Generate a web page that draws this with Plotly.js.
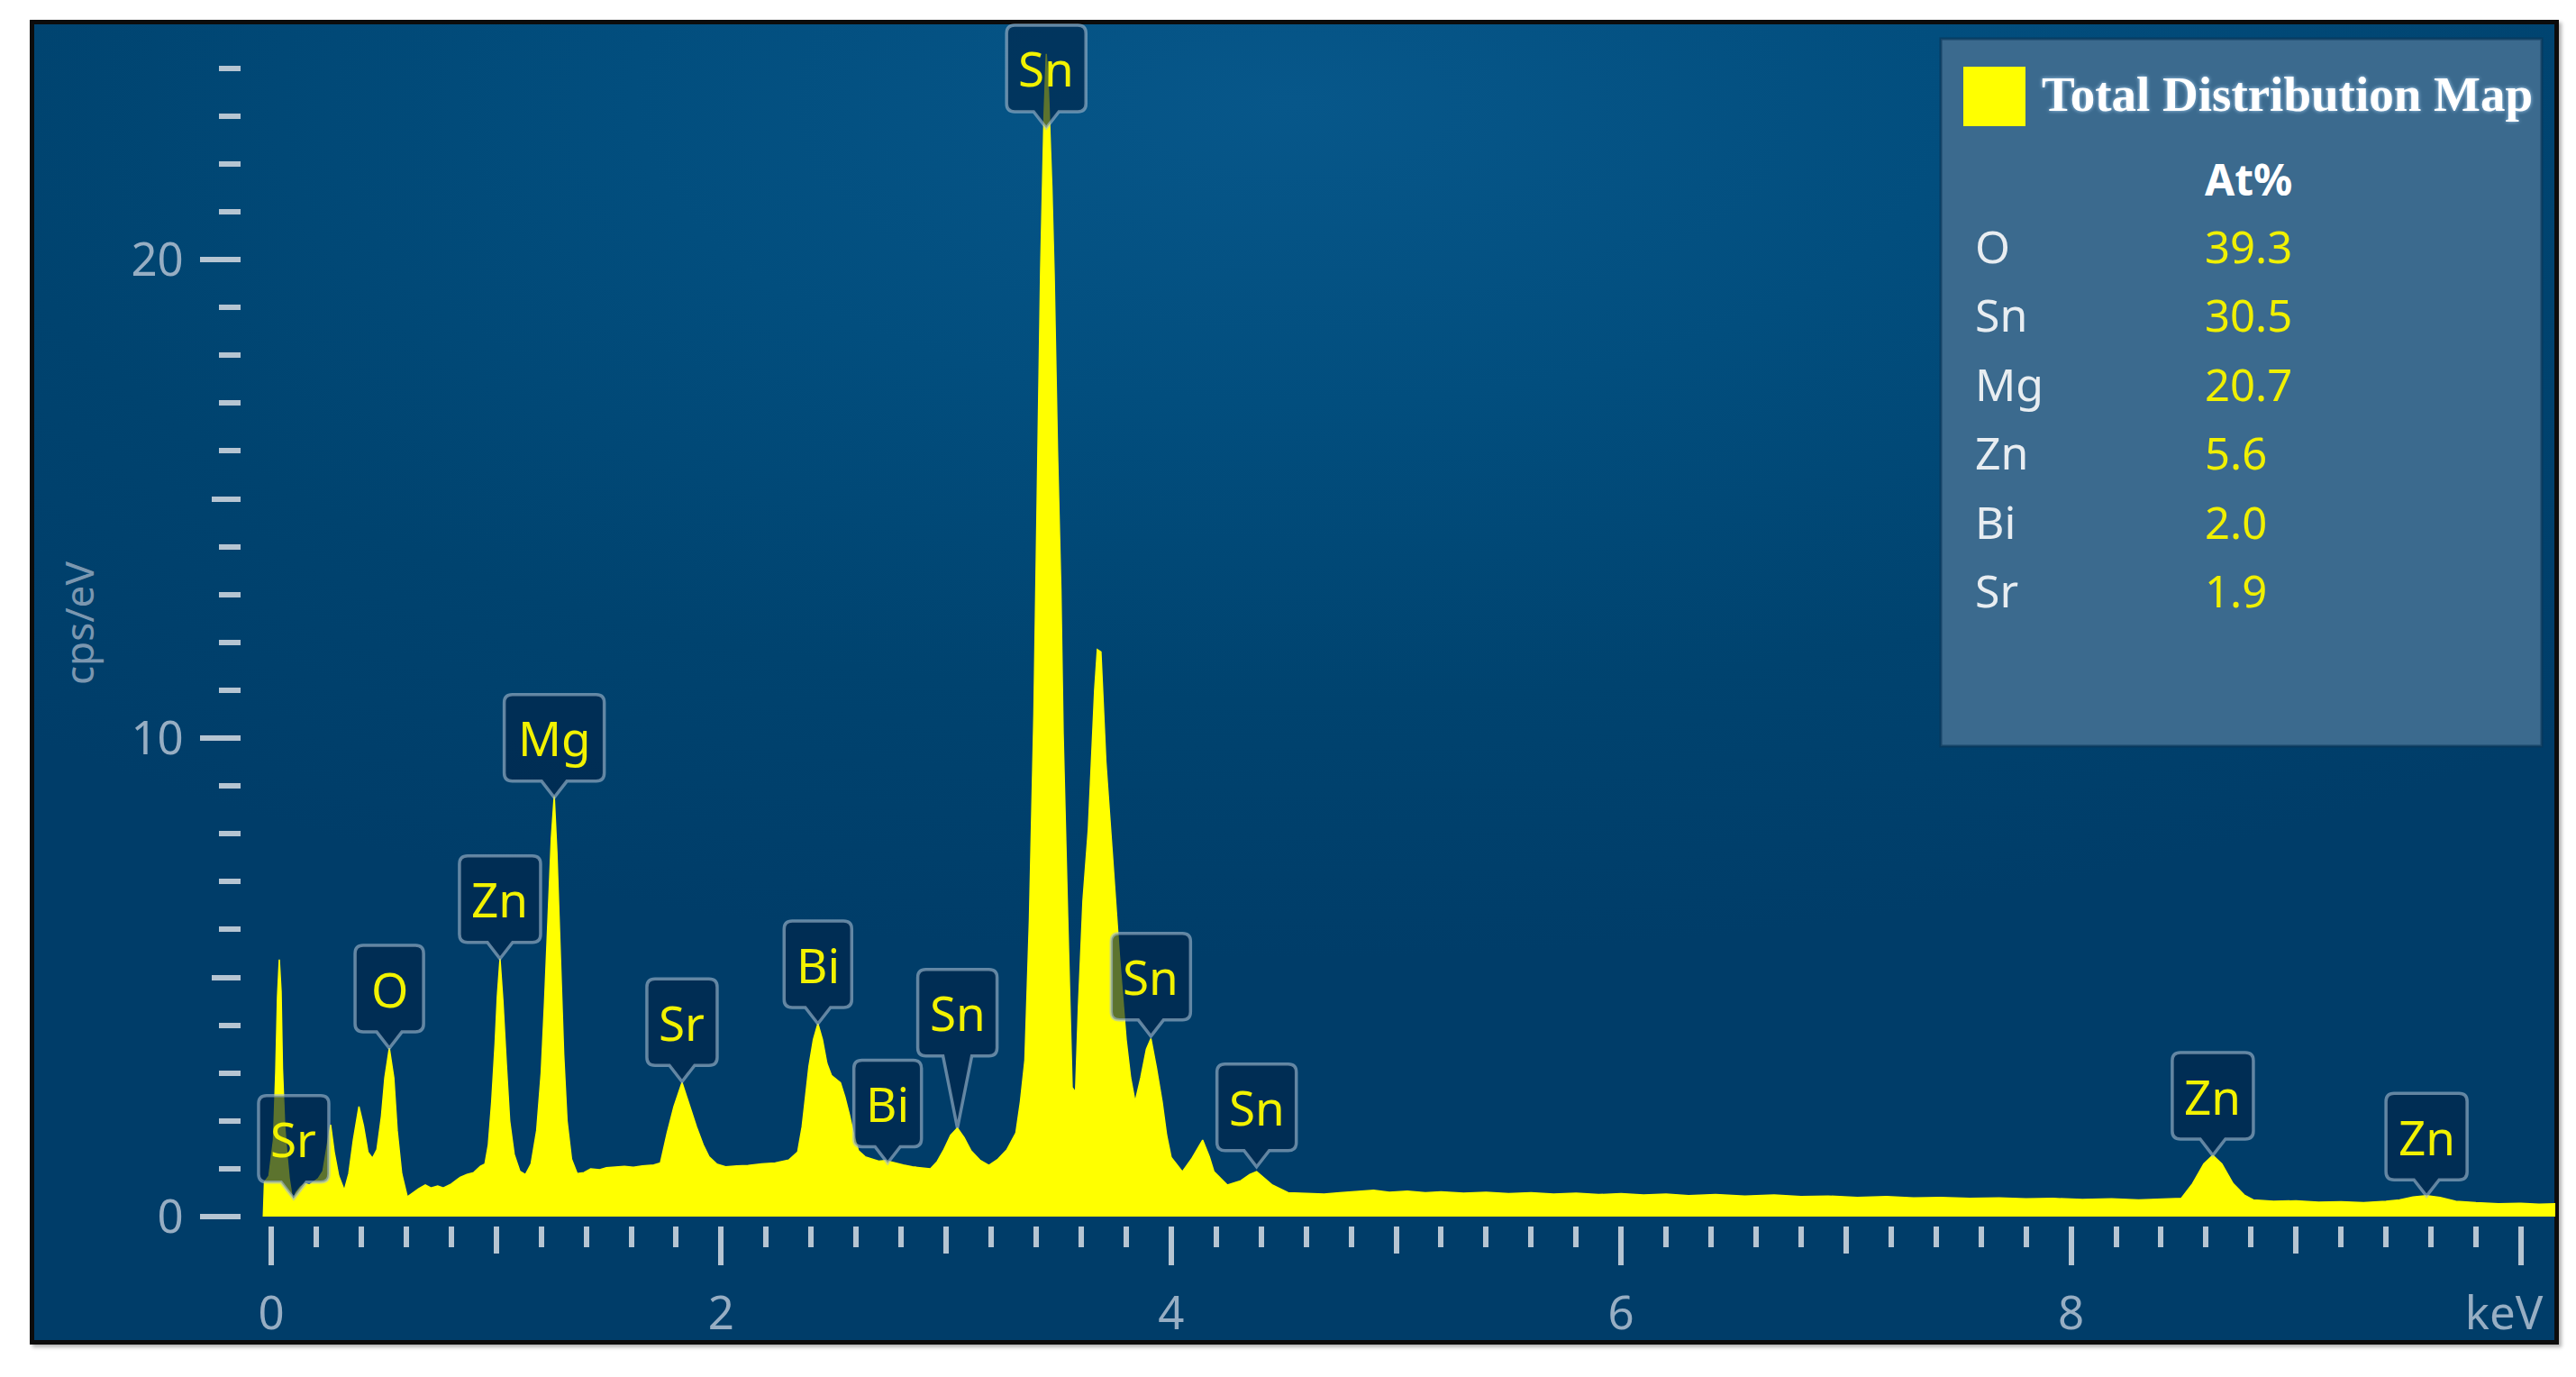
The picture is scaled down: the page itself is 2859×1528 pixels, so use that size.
<!DOCTYPE html>
<html>
<head>
<meta charset="utf-8">
<script src="https://cdn.plot.ly/plotly-3.0.1.min.js"></script>
<style>
  html, body { margin: 0; padding: 0; background: #ffffff; }
  #frame {
    position: absolute; left: 33px; top: 22px; width: 2807px; height: 1470px;
    box-sizing: border-box; border: 5px solid #0c0c0c;
    box-shadow: 3px 3px 4px rgba(0,0,0,0.3);
    background: radial-gradient(ellipse 75% 65% at 50% 6%, #07578a 0%, #024e7e 35%, #00436f 70%, #003d69 100%);
  }
  #eds { position: absolute; left: 0; top: 0; width: 2859px; height: 1528px; }
</style>
</head>
<body>
<div id="frame"></div>
<div id="eds"></div>
<script>
// spectrum (keV, cps/eV)
const energy = [
  -0.035, -0.03, -0.01, 0.01, 0.02, 0.028, 0.036, 0.044, 0.05, 0.06, 0.07, 0.08, 0.096,
  0.11, 0.13, 0.15, 0.17, 0.19, 0.21, 0.23, 0.245, 0.264, 0.28, 0.3, 0.325, 0.345, 0.365,
  0.39, 0.41, 0.43, 0.45, 0.47, 0.49, 0.505, 0.525, 0.545, 0.56, 0.58, 0.605, 0.63, 0.655,
  0.685, 0.71, 0.74, 0.765, 0.8, 0.84, 0.87, 0.9, 0.93, 0.95, 0.965, 0.98, 0.995, 1.005,
  1.017, 1.03, 1.045, 1.06, 1.08, 1.105, 1.13, 1.155, 1.18, 1.2, 1.215, 1.23, 1.245, 1.258,
  1.27, 1.285, 1.3, 1.315, 1.335, 1.36, 1.39, 1.42, 1.46, 1.49, 1.53, 1.57, 1.61, 1.65,
  1.7, 1.73, 1.76, 1.79, 1.826, 1.86, 1.89, 1.92, 1.946, 1.98, 2.02, 2.07, 2.12, 2.18,
  2.24, 2.3, 2.34, 2.36, 2.375, 2.39, 2.41, 2.43, 2.45, 2.47, 2.49, 2.51, 2.53, 2.55,
  2.57, 2.59, 2.61, 2.64, 2.67, 2.7, 2.73, 2.77, 2.81, 2.85, 2.9, 2.93, 2.96, 2.99, 3.02,
  3.05, 3.08, 3.11, 3.15, 3.19, 3.23, 3.27, 3.31, 3.33, 3.35, 3.37, 3.39, 3.40, 3.42,
  3.435, 3.445, 3.455, 3.47, 3.48, 3.495, 3.51, 3.52, 3.54, 3.56, 3.575, 3.588, 3.608,
  3.632, 3.66, 3.672, 3.688, 3.71, 3.74, 3.77, 3.80, 3.82, 3.84, 3.865, 3.89, 3.91,
  3.935, 3.96, 3.98, 4.0, 4.05, 4.09, 4.14, 4.17, 4.19, 4.25, 4.31, 4.35, 4.38, 4.42,
  4.45, 4.52, 4.6, 4.68, 4.75, 4.82, 4.9, 4.97, 5.05, 5.13, 5.2, 5.3, 5.4, 5.5, 5.6, 5.7,
  5.8, 5.9, 6.0, 6.1, 6.2, 6.3, 6.42, 6.55, 6.68, 6.8, 6.92, 7.05, 7.18, 7.3, 7.42, 7.55,
  7.68, 7.8, 7.92, 8.05, 8.18, 8.3, 8.42, 8.49, 8.54, 8.59, 8.63, 8.67, 8.72, 8.77, 8.81,
  8.9, 9.0, 9.1, 9.2, 9.3, 9.4, 9.46, 9.52, 9.58, 9.64, 9.71, 9.8, 9.9, 10.0, 10.08, 10.16
];
const counts = [
  0.0, 0.72, 0.85, 1.6, 3.0, 4.6, 5.37, 4.7, 3.1, 1.9, 1.3, 0.8, 0.32,
  0.5, 0.62, 0.69, 0.66, 0.73, 0.8, 0.95, 1.4, 1.92, 1.35, 0.85, 0.55, 0.9, 1.6,
  2.3, 1.9, 1.35, 1.22, 1.4, 2.1, 2.9, 3.52, 2.9, 1.8, 0.9, 0.41, 0.5, 0.58,
  0.66, 0.6, 0.64, 0.6, 0.68, 0.82, 0.88, 0.92, 1.05, 1.1, 1.5, 2.4, 3.6, 4.6,
  5.39, 4.5, 3.2, 2.0, 1.3, 0.95, 0.88, 1.1, 1.8, 3.0, 4.5, 6.2, 7.9, 8.8,
  7.6, 5.5, 3.4, 2.0, 1.2, 0.9, 0.92, 1.0, 0.98, 1.02, 1.04, 1.05, 1.03, 1.06,
  1.08, 1.12, 1.75, 2.3, 2.8, 2.3, 1.88, 1.5, 1.25, 1.1, 1.04, 1.06, 1.07, 1.1,
  1.12, 1.18, 1.35, 1.88, 2.5, 3.14, 3.7, 4.03, 3.7, 3.2, 2.95, 2.88, 2.8, 2.5,
  2.13, 1.7, 1.38, 1.25, 1.2, 1.16, 1.17, 1.12, 1.08, 1.04, 1.02, 1.0, 1.15, 1.4, 1.7,
  1.85, 1.65, 1.38, 1.18, 1.07, 1.2, 1.4, 1.75, 2.4, 3.27, 6.2, 10.5, 13.6, 19.8,
  23.0, 24.3, 23.5, 21.5, 19.7, 16.0, 13.1, 10.1, 6.3, 2.7, 2.6, 4.4, 6.6,
  8.1, 11.0, 11.85, 11.8, 9.5, 7.5, 5.46, 3.7, 2.9, 2.4, 2.9, 3.5, 3.72,
  3.1, 2.4, 1.7, 1.24, 0.94, 1.2, 1.6, 1.25, 0.94, 0.66, 0.75, 0.88, 0.94, 0.78,
  0.66, 0.5, 0.49, 0.47, 0.5, 0.52, 0.55, 0.51, 0.53, 0.5, 0.52, 0.49, 0.51, 0.48, 0.5, 0.47,
  0.49, 0.46, 0.48, 0.45, 0.47, 0.44, 0.46, 0.43, 0.45, 0.42, 0.43, 0.4, 0.42, 0.39, 0.4, 0.38,
  0.39, 0.37, 0.38, 0.36, 0.37, 0.35, 0.36, 0.38, 0.69, 1.1, 1.28, 1.1, 0.69, 0.45, 0.35,
  0.32, 0.33, 0.3, 0.31, 0.29, 0.32, 0.35, 0.41, 0.44, 0.4, 0.32, 0.29, 0.27, 0.28, 0.26, 0.27
];

// peak markers: element, energy of the tip, height of the tip
const peakNames = ['Sr', 'O', 'Zn', 'Mg', 'Sr', 'Bi', 'Bi', 'Sn', 'Sn', 'Sn', 'Sn', 'Zn', 'Zn'];
const peakKeV = [0.10, 0.525, 1.017, 1.258, 1.826, 2.43, 2.74, 3.05, 3.445, 3.91, 4.38, 8.63, 9.58];
const peakTip = [0.38, 3.52, 5.39, 8.76, 2.82, 4.03, 1.12, 1.85, 22.75, 3.77, 1.04, 1.28, 0.43];

// quantification table
const elements = ['O', 'Sn', 'Mg', 'Zn', 'Bi', 'Sr'];
const atPercent = ['39.3', '30.5', '20.7', '5.6', '2.0', '1.9'];
const seriesName = 'Total Distribution Map';

const W = 2859, H = 1528;
const px = (x) => x / W;
const py = (y) => 1 - y / H;

const tickCol = '#b6c5d2';
const labelCol = '#97aec3';
const yellow = '#ffff00';

// callout path, tip at (0,0), pixel units with y going up
function callout(w, h, p, pw, r) {
  const hw = w / 2;
  return `M0,0 L${pw},${p} L${hw - r},${p} Q${hw},${p} ${hw},${p + r} ` +
    `L${hw},${p + h - r} Q${hw},${p + h} ${hw - r},${p + h} ` +
    `L${-hw + r},${p + h} Q${-hw},${p + h} ${-hw},${p + h - r} ` +
    `L${-hw},${p + r} Q${-hw},${p} ${-hw + r},${p} L${-pw},${p} Z`;
}

const boxWidth = { Sr: 78, Zn: 90, Sn: 88, O: 76, Bi: 75, Mg: 111 };
const boxH = 96;

const shapes = [];
const annotations = [];

peakNames.forEach((name, i) => {
  const stem = i === 7 ? 80 : 18;
  const half = i === 7 ? 16 : 14;
  shapes.push({
    type: 'path',
    xref: 'x', yref: 'y',
    xsizemode: 'pixel', ysizemode: 'pixel',
    xanchor: peakKeV[i], yanchor: peakTip[i],
    path: callout(boxWidth[name], boxH, stem, half, 9),
    fillcolor: 'rgba(0,36,72,0.64)',
    line: { color: 'rgba(165,188,208,0.6)', width: 3.5 },
    layer: 'above'
  });
  annotations.push({
    xref: 'x', yref: 'y', x: peakKeV[i], y: peakTip[i],
    yshift: stem + boxH / 2, showarrow: false,
    text: name,
    font: { family: 'Noto Sans', size: 53, color: '#f2f200' }
  });
});

// legend panel
shapes.push({
  type: 'rect', xref: 'paper', yref: 'paper',
  x0: px(2154), x1: px(2821), y0: py(828), y1: py(43),
  fillcolor: '#3b6a8e', line: { color: 'rgba(10,55,90,0.7)', width: 3 }, layer: 'above'
});
shapes.push({
  type: 'rect', xref: 'paper', yref: 'paper',
  x0: px(2179), x1: px(2248), y0: py(140), y1: py(74),
  fillcolor: yellow, line: { width: 0 }, layer: 'above'
});
annotations.push({
  xref: 'paper', yref: 'paper', x: px(2264), y: py(104), xanchor: 'left', yanchor: 'middle',
  showarrow: false, text: seriesName,
  font: { family: 'Liberation Serif', size: 55, color: '#ffffff', weight: 'bold', shadow: '0px 0px 4px #a8d0f0' }
});
annotations.push({
  xref: 'paper', yref: 'paper', x: px(2445), y: py(198), xanchor: 'left', yanchor: 'middle',
  showarrow: false, text: 'At%',
  font: { family: 'Noto Sans', size: 48, color: '#ffffff', weight: 'bold' }
});
elements.forEach((el, i) => {
  const y = py(273 + i * 76.4);
  annotations.push({
    xref: 'paper', yref: 'paper', x: px(2190), y, xanchor: 'left', yanchor: 'middle',
    showarrow: false, text: el,
    font: { family: 'Noto Sans', size: 50, color: '#e8edf1' }
  });
  annotations.push({
    xref: 'paper', yref: 'paper', x: px(2445), y, xanchor: 'left', yanchor: 'middle',
    showarrow: false, text: atPercent[i],
    font: { family: 'Noto Sans', size: 49, color: '#f0f000' }
  });
});

// y axis caption
annotations.push({
  xref: 'paper', yref: 'paper', x: px(87), y: py(692), xanchor: 'center', yanchor: 'middle',
  textangle: -90, showarrow: false, text: 'cps/eV',
  font: { family: 'Noto Sans', size: 44, color: '#7b97b0' }
});

const spectrum = {
  x: energy,
  y: counts,
  type: 'scatter',
  mode: 'lines',
  fill: 'tozeroy',
  fillcolor: yellow,
  line: { color: yellow, width: 1.5 },
  name: seriesName,
  showlegend: false,
  hoverinfo: 'x+y'
};
// empty traces so the extra tick axes get drawn
const midX = { x: [], y: [], xaxis: 'x2', yaxis: 'y', type: 'scatter', showlegend: false };
const endX = { x: [], y: [], xaxis: 'x3', yaxis: 'y', type: 'scatter', showlegend: false };
const midY = { x: [], y: [], xaxis: 'x', yaxis: 'y2', type: 'scatter', showlegend: false };

const plotLeft = 280, plotRight = 2836, plotTop = 25, plotBottom = 1350;
const keV0 = 301, pxPerKeV = 249.7, pxPerCount = 53.1;
const xRange = [(plotLeft - keV0) / pxPerKeV, (plotRight - keV0) / pxPerKeV];
const yRange = [0, (plotBottom - plotTop) / pxPerCount];

const tickFont = { family: 'Noto Sans', size: 51, color: labelCol };
const xDomain = [px(plotLeft), px(plotRight)];

const layout = {
  width: W, height: H,
  margin: { l: 0, r: 0, t: 0, b: 0 },
  paper_bgcolor: 'rgba(0,0,0,0)',
  plot_bgcolor: 'rgba(0,0,0,0)',
  showlegend: false,
  xaxis: {
    domain: xDomain, range: xRange,
    anchor: 'free', position: py(1360),
    tickmode: 'array', tickvals: [0, 2, 4, 6, 8],
    ticks: 'outside', ticklen: 43, tickwidth: 6, tickcolor: tickCol,
    ticklabelstandoff: 10,
    minor: { ticks: 'outside', tickmode: 'linear', tick0: 0, dtick: 0.2, ticklen: 23, tickwidth: 6, tickcolor: tickCol, showgrid: false },
    tickfont: tickFont,
    showgrid: false, zeroline: false, showline: false, fixedrange: true
  },
  xaxis2: {
    overlaying: 'x', domain: xDomain, range: xRange,
    anchor: 'free', position: py(1360),
    tickmode: 'linear', tick0: 1, dtick: 2,
    ticks: 'outside', ticklen: 30, tickwidth: 6, tickcolor: tickCol,
    showticklabels: false, showgrid: false, zeroline: false, showline: false
  },
  xaxis3: {
    overlaying: 'x', domain: xDomain, range: xRange,
    anchor: 'free', position: py(1360),
    tickmode: 'array', tickvals: [10], ticktext: ['keV'],
    ticks: 'outside', ticklen: 43, tickwidth: 6, tickcolor: tickCol,
    ticklabelstandoff: 10, ticklabelshift: -19,
    tickfont: tickFont,
    showgrid: false, zeroline: false, showline: false
  },
  yaxis: {
    domain: [py(plotBottom), py(plotTop)], range: yRange,
    anchor: 'free', position: px(267),
    tickmode: 'linear', tick0: 0, dtick: 10,
    ticks: 'outside', ticklen: 45, tickwidth: 6, tickcolor: tickCol,
    ticklabelstandoff: 8,
    minor: { ticks: 'outside', tickmode: 'linear', tick0: 0, dtick: 1, ticklen: 24, tickwidth: 6, tickcolor: tickCol, showgrid: false },
    tickfont: tickFont,
    showgrid: false, zeroline: false, showline: false, fixedrange: true
  },
  yaxis2: {
    overlaying: 'y', domain: [py(plotBottom), py(plotTop)], range: yRange,
    anchor: 'free', position: px(267),
    tickmode: 'linear', tick0: 5, dtick: 10,
    ticks: 'outside', ticklen: 32, tickwidth: 6, tickcolor: tickCol,
    showticklabels: false, showgrid: false, zeroline: false, showline: false
  },
  shapes,
  annotations
};

Plotly.newPlot(document.getElementById('eds'), [spectrum, midX, endX, midY], layout, { staticPlot: true });
</script>
</body>
</html>
